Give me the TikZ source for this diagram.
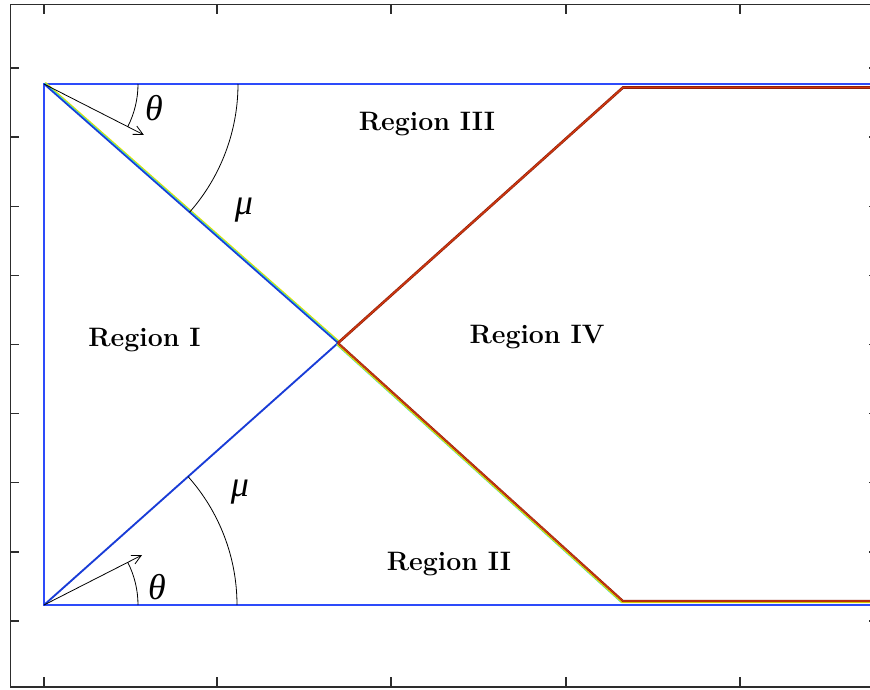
\documentclass[tikz,border=0pt]{standalone}
\usepackage{fontspec}
\newfontfamily\griech{Liberation Serif}
\usetikzlibrary{arrows.meta}
\definecolor{achse}{RGB}{45,45,45}
\definecolor{randblau}{RGB}{45,75,250}
\definecolor{linienblau}{RGB}{25,60,215}
\definecolor{linienrot}{RGB}{205,55,15}
\definecolor{dunkelrot}{RGB}{140,30,10}
\definecolor{gelb}{RGB}{225,225,0}
\definecolor{tuerkis}{RGB}{40,215,215}
\begin{document}
\begin{tikzpicture}[
      x=0.75pt, y=-0.75pt,
      rahmen/.style={draw=achse, line width=1.1pt},
      rand/.style={draw=randblau, line width=1.4pt},
      pfeil/.style={-{Straight Barb[length=7pt, width=7pt]}, line width=0.6pt},
      bogen/.style={line width=0.6pt},
      gebiet/.style={font=\fontsize{20}{24}\selectfont\bfseries},
      winkel/.style={font=\fontsize{27}{30}\selectfont\griech\itshape}
    ]
      \useasboundingbox (0,0) rectangle (870,689);
      \fill[white] (0,0) rectangle (870,689);

      \draw[rahmen] (880,4.5) -- (10.5,4.5) -- (10.5,687) -- (880,687);
      \foreach \x in {44,217,391,566,740} {
        \draw[rahmen] (\x,4.5) -- (\x,14);
        \draw[rahmen] (\x,687) -- (\x,677);
      }
      \foreach \i in {0,...,8} {
        \draw[rahmen] (10.5,68+69.125*\i) -- (19,68+69.125*\i);
        \draw[rahmen] (878,68+69.125*\i) -- (869,68+69.125*\i);
      }

      \coordinate (ol) at (44,84);
      \coordinate (ul) at (44,605);
      \coordinate (kreuz) at (338,343);
      \coordinate (ok) at (623,87.5);
      \coordinate (uk) at (623,601);
      \coordinate (or) at (880,84);
      \coordinate (ur) at (880,605);
      \coordinate (rotoben) at (880,87.5);
      \coordinate (rotunten) at (880,601);

      \draw[rand] (or) -- (ol) -- (ul) -- (ur);

      \draw[gelb, line width=1pt] ([shift={(1.3,-1.5)}]ol) -- ([shift={(1.3,-1.5)}]kreuz);
      \draw[tuerkis, line width=1pt] ([shift={(0.6,-0.7)}]ol) -- ([shift={(0.6,-0.7)}]kreuz);
      \draw[linienblau, line width=1.2pt] (ol) -- (kreuz);
      \draw[linienblau, line width=1.4pt] (ul) -- (kreuz);

      \draw[dunkelrot, line width=2pt] (kreuz) -- (ok) -- (rotoben);
      \draw[linienrot, line width=1.1pt] (kreuz) -- (ok) -- (rotoben);

      \draw[tuerkis, line width=0.8pt] ([shift={(-1.5,1.6)}]kreuz) -- ([shift={(-1.5,1.6)}]uk);
      \draw[gelb, line width=1pt] ([shift={(-0.8,1.5)}]kreuz) -- ([shift={(-0.8,1.5)}]uk) -- ([shift={(0,1.5)}]rotunten);
      \draw[dunkelrot, line width=1.6pt] (kreuz) -- (uk) -- (rotunten);
      \draw[linienrot, line width=0.8pt] (kreuz) -- (uk) -- (rotunten);

      \path (ol) ++(27:112) coordinate (spitzeoben);
      \path (ul) ++(-27:110) coordinate (spitzeunten);
      \draw[pfeil] (ol) -- (spitzeoben);
      \draw[pfeil] (ul) -- (spitzeunten);

      \draw[bogen] ([shift={(0:94)}]ol) arc[start angle=0, end angle=27, radius=94];
      \draw[bogen] ([shift={(0:194)}]ol) arc[start angle=0, end angle=41.4, radius=194];
      \draw[bogen] ([shift={(0:94)}]ul) arc[start angle=0, end angle=-27, radius=94];
      \draw[bogen] ([shift={(0:193)}]ul) arc[start angle=0, end angle=-41.7, radius=193];

      \node[winkel] (thetaoben) at (154,108) {θ};
      \node[winkel] (muoben) at (244,210) {μ};
      \node[winkel] (thetaunten) at (157,587) {θ};
      \node[winkel] (muunten) at (240,492) {μ};

      \node[gebiet] (eins) at (144.5,340) {Region I};
      \node[gebiet] (zwei) at (449,564) {Region II};
      \node[gebiet] (drei) at (427,124) {Region III};
      \node[gebiet] (vier) at (537,337.5) {Region IV};
    \end{tikzpicture}
\end{document}
